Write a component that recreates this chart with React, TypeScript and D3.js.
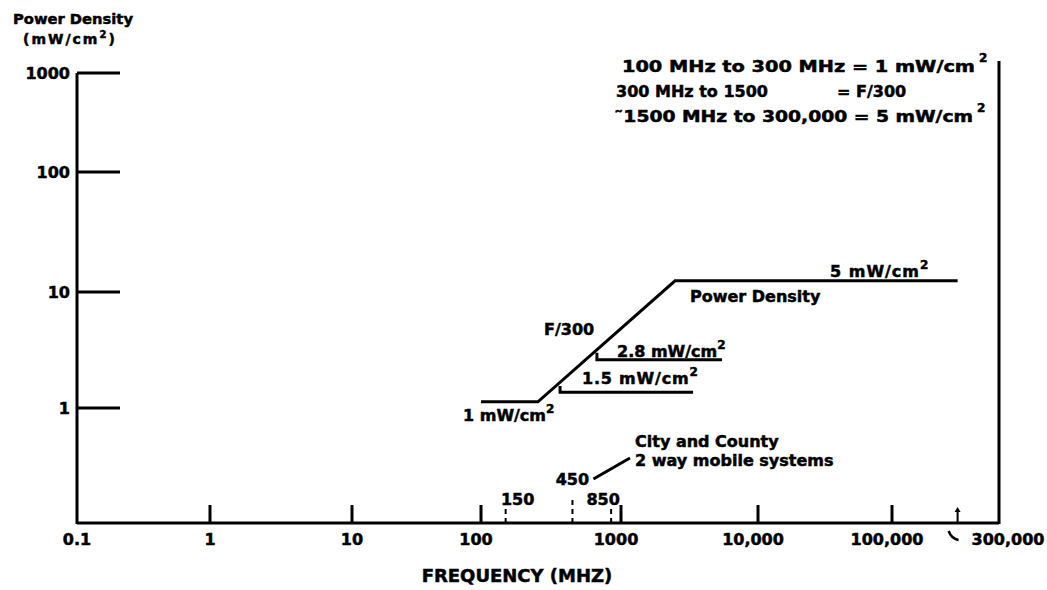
import React from "react";
import * as d3 from "d3";

// frequency axis (MHz)
const freqTicks = [0.1, 1, 10, 100, 1000, 10000, 100000];
const freqTickLabels = ["0.1", "1", "10", "100", "1000", "10,000", "100,000"];
const bandTicks = [150, 450, 850];
const bandTickLabels = ["150", "450", "850"];
const upperTick = 300000;
const upperTickLabel = "300,000";

// power density axis (mW/cm2)
const densityTicks = [1, 10, 100, 1000];
const densityTickLabels = ["1", "10", "100", "1000"];

// exposure limit curve as drawn
const limitFreq = [100, 255, 2480, 300000];
const limitDensity = [1.13, 1.13, 12.4, 12.4];

// the two shorter steps hanging off the F/300 ramp
const step15Freq = [367, 367, 3355];
const step15Density = [1.55, 1.37, 1.37];
const step28Freq = [673, 673, 5460];
const step28Density = [3.0, 2.6, 2.6];

const FONT = "'DejaVu Sans', sans-serif";

export default function App() {
  const width = 1047;
  const height = 590;

  // the scanned axes are not evenly spaced, so the log scales are piecewise
  const x = d3
    .scaleLog()
    .domain([0.1, 1, 10, 100, 1000, 10000, 100000, 600000])
    .range([77, 210, 352, 481, 621, 758, 892, 999]);
  const y = d3
    .scaleLog()
    .domain([0.1, 1, 10, 100, 1000])
    .range([523, 408, 292, 172, 73]);

  const x0 = x(0.1);
  const x1 = x(600000);
  const yBottom = y(0.1);
  const yTop = y(1000);

  const line = d3
    .line<[number, number]>()
    .x((d) => x(d[0]))
    .y((d) => y(d[1]));

  const limitPts = limitFreq.map((f, i) => [f, limitDensity[i]] as [number, number]);
  const step15Pts = step15Freq.map((f, i) => [f, step15Density[i]] as [number, number]);
  const step28Pts = step28Freq.map((f, i) => [f, step28Density[i]] as [number, number]);

  // scanned lettering is heavy, so give the bold face a thin outline
  const txt = {
    fontFamily: FONT,
    fontWeight: 700,
    fill: "#000",
    stroke: "#000",
    strokeWidth: 0.5,
  } as const;
  const xu = x(upperTick);
  const x450 = x(450);

  return (
    <svg
      width={width}
      height={height}
      style={{ position: "absolute", left: 0, top: 0, background: "#fff" }}
    >
      <rect width={width} height={height} fill="#fff" />

      {/* axis title, top left */}
      <text x={13} y={24} fontSize={14} textLength={120} lengthAdjust="spacingAndGlyphs" {...txt}>
        Power Density
      </text>
      <text x={23} y={44} fontSize={14} letterSpacing={2} {...txt}>
        (mW/cm
        <tspan dy={-6} fontSize={10}>2</tspan>
        <tspan dy={6}>)</tspan>
      </text>

      {/* frame */}
      <g stroke="#000" strokeWidth={3} fill="none">
        <line x1={x0} y1={yTop} x2={x0} y2={yBottom + 1} />
        <line x1={x0} y1={yBottom} x2={x1} y2={yBottom} />
        <line x1={x1} y1={61} x2={x1} y2={yBottom + 1} />
      </g>

      {/* y ticks */}
      {densityTicks.map((v, i) => (
        <g key={v}>
          <line x1={x0} x2={x0 + 43} y1={y(v)} y2={y(v)} stroke="#000" strokeWidth={3} />
          <text x={70} y={y(v) + 6} fontSize={16} textAnchor="end" {...txt}>
            {densityTickLabels[i]}
          </text>
        </g>
      ))}

      {/* x ticks */}
      {freqTicks.map((v, i) => (
        <g key={v}>
          {i > 0 && (
            <line x1={x(v)} x2={x(v)} y1={yBottom} y2={yBottom - 18} stroke="#000" strokeWidth={3} />
          )}
          <text x={x(v) - (i > 2 ? 5 : 0)} y={545} fontSize={16} textAnchor="middle" {...txt}>
            {freqTickLabels[i]}
          </text>
        </g>
      ))}

      {/* mobile system band ticks */}
      {bandTicks.map((v, i) => (
        <g key={v}>
          <line
            x1={x(v)}
            x2={x(v)}
            y1={yBottom}
            y2={yBottom - (v === 450 ? 25 : 15)}
            stroke="#000"
            strokeWidth={2}
            strokeDasharray="5 4"
          />
          <text
            x={x(v) + (v === 150 ? 12 : v === 850 ? -8 : 0)}
            y={v === 450 ? 485 : 505}
            fontSize={16}
            textAnchor="middle"
            {...txt}
          >
            {bandTickLabels[i]}
          </text>
        </g>
      ))}
      <line x1={x450 + 21} y1={479} x2={630} y2={458} stroke="#000" strokeWidth={3} />
      <text x={635} y={447} fontSize={16} {...txt}>
        City and County
      </text>
      <text x={635} y={466} fontSize={16} {...txt}>
        2 way mobile systems
      </text>

      {/* 300,000 tick with its pointer */}
      <line x1={xu} x2={xu} y1={yBottom} y2={yBottom - 13} stroke="#000" strokeWidth={2} />
      <path d={`M${xu - 3},${yBottom - 11} L${xu},${yBottom - 16} L${xu + 3},${yBottom - 11} Z`} fill="#000" />
      <path
        d={`M${xu - 9},${531} Q${xu - 6},${539} ${xu + 1},${540}`}
        stroke="#000"
        strokeWidth={2.5}
        fill="none"
      />
      <text x={xu + 14} y={545} fontSize={16} {...txt}>
        {upperTickLabel}
      </text>

      <text x={517} y={582} fontSize={18} textAnchor="middle" {...txt}>
        FREQUENCY (MHZ)
      </text>

      {/* limit curve */}
      <g stroke="#000" strokeWidth={3} fill="none" strokeLinejoin="miter">
        <path d={line(limitPts) ?? ""} />
        <path d={line(step15Pts) ?? ""} />
        <path d={line(step28Pts) ?? ""} />
      </g>

      {/* curve annotations */}
      <text x={830} y={277} fontSize={16} letterSpacing={1} {...txt}>
        5 mW/cm<tspan dy={-8} fontSize={12}>2</tspan>
      </text>
      <text x={690} y={302} fontSize={16} {...txt}>
        Power Density
      </text>
      <text x={544} y={335} fontSize={16} {...txt}>
        F/300
      </text>
      <text x={617} y={357} fontSize={16} {...txt}>
        2.8 mW/cm<tspan dy={-8} fontSize={12}>2</tspan>
      </text>
      <text x={582} y={384} fontSize={16} letterSpacing={0.8} {...txt}>
        1.5 mW/cm<tspan dy={-8} fontSize={12}>2</tspan>
      </text>
      <text x={463} y={421} fontSize={16} {...txt}>
        1 mW/cm<tspan dy={-8} fontSize={12}>2</tspan>
      </text>

      {/* standard summary, top right */}
      <text x={622} y={72} fontSize={16} textLength={353} lengthAdjust="spacingAndGlyphs" {...txt}>
        100 MHz to 300 MHz = 1 mW/cm
      </text>
      <text x={979} y={62} fontSize={12} {...txt}>
        2
      </text>
      <text x={616} y={97} fontSize={16} {...txt}>
        300 MHz to 1500
      </text>
      <text x={837} y={97} fontSize={16} {...txt}>
        = F/300
      </text>
      <text x={614} y={122} fontSize={16} textLength={359} lengthAdjust="spacingAndGlyphs" {...txt}>
        ˜1500 MHz to 300,000 = 5 mW/cm
      </text>
      <text x={977} y={112} fontSize={12} {...txt}>
        2
      </text>
    </svg>
  );
}
